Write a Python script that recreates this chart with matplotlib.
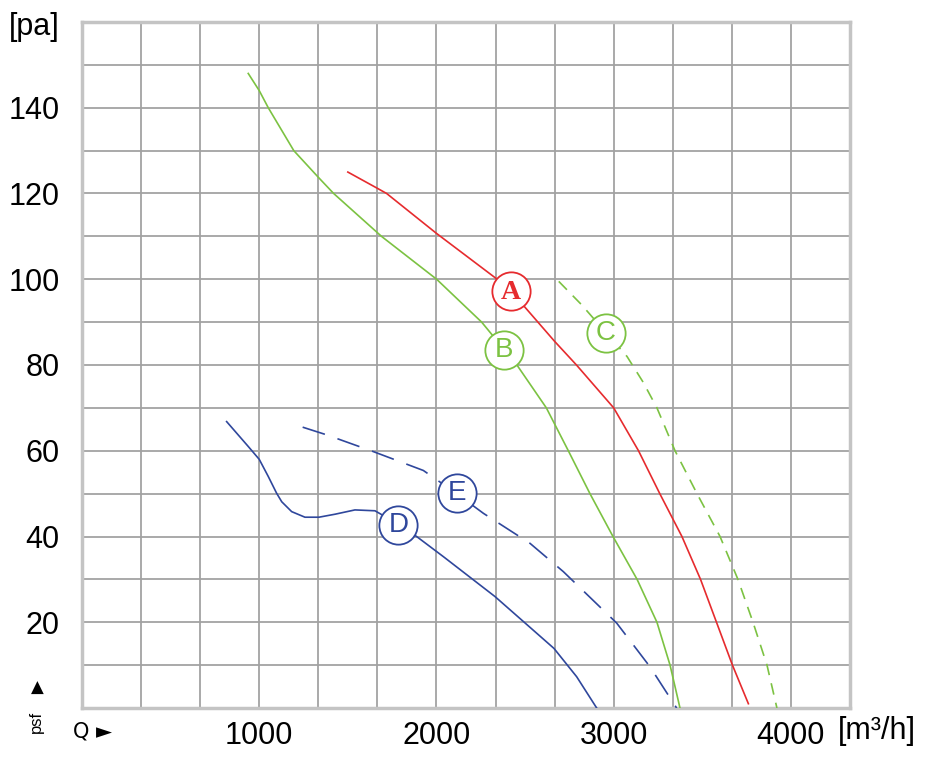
import numpy as np
import matplotlib
matplotlib.use("Agg")
import matplotlib.pyplot as plt
from matplotlib.ticker import MultipleLocator

plt.rcParams['font.family'] = ['Liberation Sans', 'DejaVu Sans']

# curve data  (Q in m3/h, p in pa)
qa = [1500, 1667, 1719, 2000, 2333, 2419, 2667, 2790, 3000, 3140, 3260, 3385, 3490, 3580, 3670, 3760]
pa = [125, 121.2, 120, 110.7, 100.3, 97.3, 85.5, 80, 70, 60, 50, 40, 30, 20, 10, 1]

qb = [938, 1000, 1051, 1195, 1333, 1420, 1690, 2001, 2255, 2454, 2620, 2744, 2866, 2996, 3132, 3244, 3318, 3374]
pb = [148, 144, 140, 130, 123.8, 120, 110, 100, 90, 80, 70, 60, 50, 40, 30, 20, 10, 0]

qc = [2690, 2820, 2957, 3075, 3166, 3244, 3346, 3470, 3600, 3701, 3786, 3865, 3921]
pc = [99.5, 94, 87.5, 82, 76, 70, 60, 50, 40, 30, 20, 10, 0]

qd = [816, 938, 1000, 1051, 1098, 1127, 1183, 1258, 1337, 1428, 1540, 1653, 1780, 1888, 2039, 2330,
      2663, 2791, 2904]
pd_ = [66.8, 61, 58, 54, 50.1, 48.1, 45.8, 44.5, 44.5, 45.2, 46.2, 46, 43, 40, 35.3, 26, 13.9, 7.3, 0]

qe = [1245, 1381, 1644, 1926, 2114, 2265, 2528, 2716, 3017, 3205, 3355]
pe = [65.5, 63.7, 59.8, 55.4, 50, 45.4, 38.4, 31.8, 19.8, 9.6, 0]

labels = ['A', 'B', 'C', 'D', 'E']
label_q = [2419, 2381, 2957, 1785, 2114]
label_p = [97.3, 83.5, 87.5, 42.7, 50.1]

red = '#e62b2e'
green = '#7cc242'
blue = '#2f479c'
colors = [red, green, green, blue, blue]

fig = plt.figure(figsize=(9.31, 7.57), dpi=100)
ax = fig.add_axes([82/931, 49/757, 768/931, 686/757])

ax.plot(qa, pa, color=red, lw=1.2, zorder=3)
ax.plot(qb, pb, color=green, lw=1.2, zorder=3)
ax.plot(qc, pc, color=green, lw=1.2, dashes=(7, 5), zorder=3)
ax.plot(qd, pd_, color=blue, lw=1.2, zorder=3)
ax.plot(qe, pe, color=blue, lw=1.2, dashes=(14, 8), zorder=3)

for lab, x, y, c in zip(labels, label_q, label_p, colors):
    ax.scatter([x], [y], s=760, facecolor='white', edgecolor=c, linewidth=1.3, zorder=4)
    if lab == 'A':
        ax.text(x, y - 0.3, lab, color=c, fontsize=20, fontweight='bold', family='Liberation Serif',
                ha='center', va='center', zorder=5)
    else:
        ax.text(x, y, lab, color=c, fontsize=20, ha='center', va='center', zorder=5)

ax.set_xlim(0, 4333.33)
ax.set_ylim(0, 160)
ax.set_xticks([1000, 2000, 3000, 4000])
ax.xaxis.set_minor_locator(MultipleLocator(1000/3))
ax.set_yticks([20, 40, 60, 80, 100, 120, 140])
ax.yaxis.set_minor_locator(MultipleLocator(10))
ax.tick_params(which='both', length=0)
ax.tick_params(axis='x', labelsize=22, pad=9)
ax.tick_params(axis='y', labelsize=22, pad=16)
ax.grid(which='both', color='#a2a2a2', lw=1.3)
ax.set_axisbelow(True)
for s in ax.spines.values():
    s.set_color('#c4c4c4')
    s.set_linewidth(2.5)

fig.text(9/931, 1 - 27/757, '[pa]', fontsize=22, ha='left', va='center')
fig.text(838/931, 1 - 731/757, '[m\u00b3/h]', fontsize=22, ha='left', va='center')
fig.text(73/931, 1 - 731/757, 'Q \u25ba', fontsize=15, ha='left', va='center',
         family=['DejaVu Sans'])
fig.text(37/931, 1 - 688/757, '\u25b2', fontsize=12, ha='center', va='center', family=['DejaVu Sans'])
fig.text(36/931, 1 - 722/757, 'psf', fontsize=12, rotation=90, ha='center', va='center')

fig.savefig('out.png', dpi=100)
